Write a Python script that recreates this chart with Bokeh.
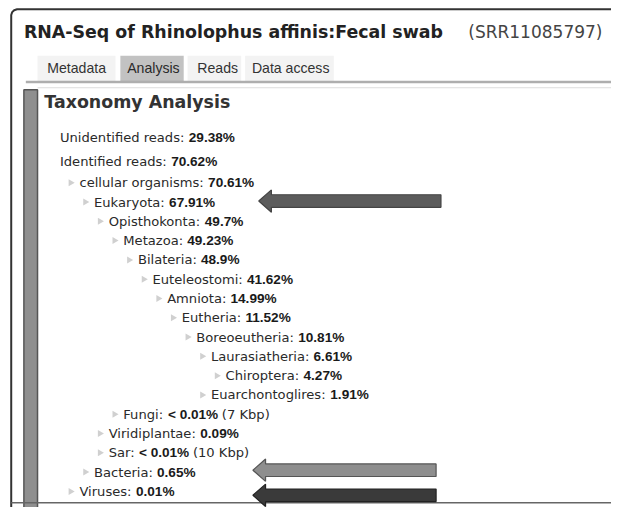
import math
from bokeh.plotting import figure
from bokeh.models import Range1d
from bokeh.core.properties import value
from bokeh.embed import file_html
from bokeh.resources import INLINE

# ---------------- data ----------------
title_text = "RNA-Seq of Rhinolophus affinis:Fecal swab"
run_id = "(SRR11085797)"
tabs = ["Metadata", "Analysis", "Reads", "Data access"]
active_tab = "Analysis"
panel_title = "Taxonomy Analysis"

taxa = ["Unidentified reads", "Identified reads", "cellular organisms", "Eukaryota",
        "Opisthokonta", "Metazoa", "Bilateria", "Euteleostomi", "Amniota", "Eutheria",
        "Boreoeutheria", "Laurasiatheria", "Chiroptera", "Euarchontoglires", "Fungi",
        "Viridiplantae", "Sar", "Bacteria", "Viruses"]
percent = [29.38, 70.62, 70.61, 67.91, 49.7, 49.23, 48.9, 41.62, 14.99, 11.52,
           10.81, 6.61, 4.27, 1.91, None, 0.09, None, 0.65, 0.01]
kbp = [None] * 14 + [7, None, 10, None, None]
depth = [0, 0, 1, 2, 3, 4, 5, 6, 7, 8, 9, 10, 11, 10, 4, 3, 3, 2, 1]
arrow_rows = ["Eukaryota", "Bacteria", "Viruses"]
arrow_fill = ["#5c5c5c", "#8e8e8e", "#3a3a3a"]
arrow_line = ["#444444", "#555555", "#222222"]

# ---------------- geometry ----------------
W, H = 611, 507
REF_W, REF_H = 627, 523
SX = W / REF_W
SY = H / REF_H
FS = min(SX, SY)


def px(size):
    return f"{size * FS:.1f}px"


DJV = {' ': .318, 'a': .613, 'b': .635, 'c': .550, 'd': .635, 'e': .615, 'f': .352, 'g': .635,
       'h': .634, 'i': .278, 'j': .278, 'k': .579, 'l': .278, 'm': .974, 'n': .634, 'o': .612,
       'p': .635, 'q': .635, 'r': .411, 's': .521, 't': .392, 'u': .634, 'v': .592, 'w': .818,
       'x': .592, 'y': .592, 'z': .525, ':': .337, '.': .318, '<': .838, '(': .390, ')': .390,
       '%': .950, 'A': .684, 'B': .686, 'C': .698, 'E': .632, 'F': .575, 'I': .295, 'K': .656,
       'L': .557, 'M': .863, 'O': .787, 'S': .635, 'U': .732, 'V': .684, 'R': .695}
ARB = {' ': .278, '.': .278, '%': .889, '<': .584}


def w_djv(s, size):  # width in reference units
    return sum(DJV.get(ch, .636 if ch.isdigit() else .6) for ch in s) * size * FS / SX


def w_arb(s, size):
    return sum(ARB.get(ch, .556) for ch in s) * size * FS / SX


# ---------------- figure ----------------
p = figure(width=W, height=H, x_range=Range1d(0, REF_W), y_range=Range1d(REF_H, 0),
           output_backend="svg", toolbar_location=None, min_border=0)
p.axis.visible = False
p.grid.visible = False
p.outline_line_color = None
p.background_fill_color = "white"
p.border_fill_color = "white"

# outer frame
p.line([11, 11, 12, 14, 17, 640], [540, 15, 12, 10, 9, 9], line_color="#333333", line_width=2)

# title
p.text(x=[24], y=[33], text=[title_text], text_font=value("DejaVu Sans"), text_font_style="bold",
       text_font_size=px(18), text_color="#222222", text_baseline="middle")
p.text(x=[480], y=[33], text=[run_id], text_font=value("DejaVu Sans"),
       text_font_size=px(17.5), text_color="#444444", text_baseline="middle")

# tabs
tab_left = [38, 123, 192, 251]
tab_right = [118, 188, 247, 342]
tab_text_x = [48, 130, 202, 258]
for t, l, r, tx in zip(tabs, tab_left, tab_right, tab_text_x):
    active = t == active_tab
    p.quad(left=[l], right=[r], top=[57], bottom=[83],
           fill_color="#c2c2c2" if active else "#f3f3f3", line_color=None)
    p.text(x=[tx], y=[70], text=[t], text_font=value("Liberation Sans"), text_font_size=px(14.5),
           text_color="#2a2a2a" if active else "#333333", text_baseline="middle")
p.line([26, 640], [84, 84], line_color="#9a9a9a", line_width=2.5, line_alpha=0.8)

# taxonomy panel
p.line([38, 640], [90, 90], line_color="#dddddd", line_width=1)
p.quad(left=[24], right=[38], top=[92], bottom=[540], fill_color="#8f8f8f", line_color="#555555",
       line_width=1.5)
p.text(x=[45], y=[105], text=[panel_title], text_font=value("DejaVu Sans"), text_font_style="bold",
       text_font_size=px(18), text_color="#333333", text_baseline="middle")
p.line([11, 640], [518, 518], line_color="#666666", line_width=1.5)

# tree rows
LS = 13.5
VS = 14
rows_y = {}
for i, (name, pc, kb, d) in enumerate(zip(taxa, percent, kbp, depth)):
    x = 61 if d == 0 else 66 + 15 * d
    y = 141 + 25 * i if i < 2 else 188 + 19.9 * (i - 2)
    rows_y[name] = y
    label = name + ": "
    val = ("< 0.01%" if pc is None else f"{pc:g}%")
    if d > 0:
        p.scatter(x=[x - 9], y=[y], marker="triangle", size=7, angle=-math.pi / 2,
                  fill_color="#d0d0d0", line_color=None)
    p.text(x=[x], y=[y], text=[label], text_font=value("DejaVu Sans"), text_font_size=px(LS),
           text_color="#2a2a2a", text_baseline="middle")
    vx = x + w_djv(label, LS)
    p.text(x=[vx], y=[y], text=[val], text_font=value("Liberation Sans"), text_font_style="bold",
           text_font_size=px(VS), text_color="#1a1a1a", text_baseline="middle")
    if kb is not None:
        sx = vx + w_arb(val + " ", VS)
        p.text(x=[sx], y=[y], text=[f"({kb} Kbp)"], text_font=value("DejaVu Sans"),
               text_font_size=px(LS), text_color="#2a2a2a", text_baseline="middle")

# arrows
arrow_tip = [265, 259, 259]
arrow_tail = [452, 447, 447]
arrow_dy = [-1, -2, 4]
for name, tip, tail, dy, fc, lc in zip(arrow_rows, arrow_tip, arrow_tail, arrow_dy, arrow_fill, arrow_line):
    yc = rows_y[name] + dy
    sh, hh, hl = 6.5, 11.5, 13
    xs = [tip, tip + hl, tip + hl, tail, tail, tip + hl, tip + hl]
    ys = [yc, yc - hh, yc - sh, yc - sh, yc + sh, yc + sh, yc + hh]
    p.patch(xs, ys, fill_color=fc, line_color=lc, line_width=1.2)

open("out.html", "w").write(file_html(p, INLINE))
